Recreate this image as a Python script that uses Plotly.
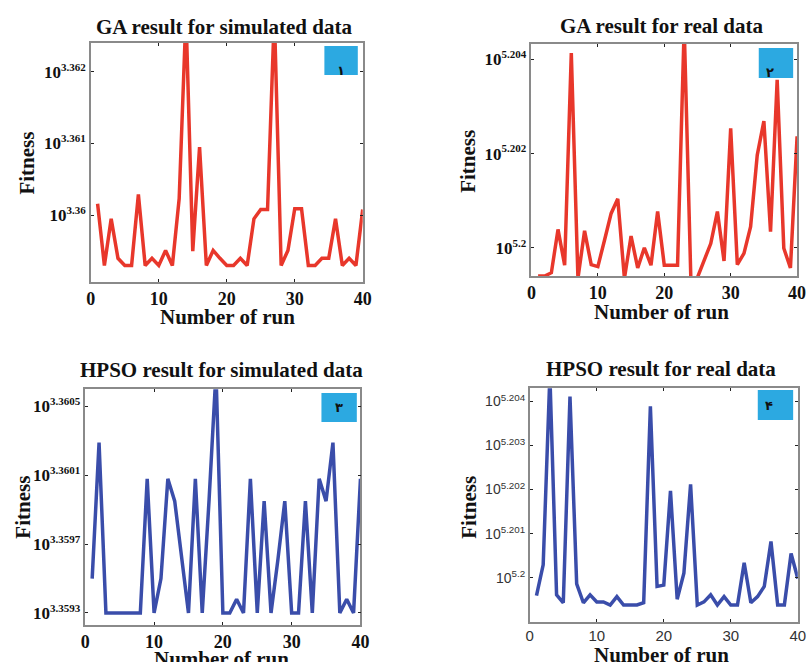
import numpy as np
import plotly.graph_objects as go

runs = list(range(1, 41))

# log10(fitness)
ga_sim_log = [3.36016, 3.35930, 3.35995, 3.35940, 3.35930, 3.35930, 3.36029, 3.35930, 3.35940, 3.35930,
              3.35951, 3.35930, 3.36023, 3.36280, 3.35950, 3.36095, 3.35930, 3.35951, 3.35940, 3.35930,
              3.35930, 3.35940, 3.35930, 3.35995, 3.36008, 3.36008, 3.36280, 3.35930, 3.35951, 3.36009,
              3.36009, 3.35930, 3.35930, 3.35940, 3.35940, 3.35995, 3.35930, 3.35940, 3.35930, 3.36008]

ga_real_log = [5.19940, 5.19940, 5.19947, 5.20039, 5.19963, 5.20414, 5.19935, 5.20036, 5.19964, 5.19960,
               5.20016, 5.20073, 5.20104, 5.19935, 5.20025, 5.19957, 5.20000, 5.19963, 5.20077, 5.19963,
               5.19963, 5.19963, 5.20470, 5.19935, 5.19937, 5.19974, 5.20009, 5.20077, 5.19972, 5.20254,
               5.19964, 5.19988, 5.20045, 5.20197, 5.20269, 5.20034, 5.20357, 5.19999, 5.19957, 5.20237]

hpso_sim_log = [3.35950, 3.36029, 3.35930, 3.35930, 3.35930, 3.35930, 3.35930, 3.35930, 3.36008, 3.35930,
                3.35950, 3.36008, 3.35995, 3.35961, 3.35930, 3.36008, 3.35930, 3.35996, 3.36070, 3.35930,
                3.35930, 3.35938, 3.35930, 3.36008, 3.35930, 3.35995, 3.35930, 3.35961, 3.35995, 3.35930,
                3.35930, 3.35995, 3.35930, 3.36008, 3.35995, 3.36029, 3.35930, 3.35938, 3.35930, 3.36008]

hpso_real_log = [5.19959, 5.20029, 5.20460, 5.19961, 5.19943, 5.20411, 5.19986, 5.19943, 5.19961, 5.19945,
                 5.19945, 5.19938, 5.19957, 5.19938, 5.19938, 5.19938, 5.19943, 5.20389, 5.19980, 5.19983,
                 5.20197, 5.19951, 5.20010, 5.20212, 5.19938, 5.19945, 5.19961, 5.19938, 5.19957, 5.19938,
                 5.19938, 5.20034, 5.19943, 5.19957, 5.19980, 5.20082, 5.19938, 5.19938, 5.20055, 5.19998]

titles = ["GA result for simulated data", "GA result for real data",
          "HPSO result for simulated data", "HPSO result for real data"]
badges = ["١", "٢", "٣", "۴"]
x_ticks = [0, 10, 20, 30, 40]
y_tick_exps = [[3.360, 3.361, 3.362], [5.200, 5.202, 5.204],
               [3.3593, 3.3597, 3.3601, 3.3605], [5.200, 5.201, 5.202, 5.203, 5.204]]
y_tick_text = [["3.36", "3.361", "3.362"], ["5.2", "5.202", "5.204"],
               ["3.3593", "3.3597", "3.3601", "3.3605"], ["5.2", "5.201", "5.202", "5.203", "5.204"]]
y_ranges = [[3.35907, 3.3624], [5.19940, 5.20433], [3.35923, 3.36060], [5.19900, 5.20430]]

W, H = 811, 662
# plot areas in pixels: (left, right, top, bottom)
boxes_px = [(87.3, 364, 43, 282), (535.7, 806, 44, 276), (81.7, 361.7, 389.3, 625), (534, 806.7, 388.3, 621.7)]
badge_px = [(325, 359, 46, 75), (767, 802, 48, 78), (322, 358, 393, 422), (766, 802, 390, 420)]
title_px = [(223, 27), (668, 26), (220, 370), (668, 369)]
xlab_px = [(226, 317), (668, 312), (220, 659), (668, 655)]
ylab_px = [(22, 163), (471, 161), (18, 507), (472, 507)]

series = [ga_sim_log, ga_real_log, hpso_sim_log, hpso_real_log]
colors = ["#E8372B", "#E8372B", "#3A4DAA", "#3A4DAA"]

serif = "Liberation Serif, Times New Roman, serif"
sans = "Liberation Sans, Arial, sans-serif"

fig = go.Figure()
layout = dict(width=W, height=H, margin=dict(l=0, r=0, t=0, b=0),
              paper_bgcolor="white", plot_bgcolor="white", showlegend=False)
shapes = []
annotations = []

for i in range(4):
    l, r, t, b = boxes_px[i]
    sfx = "" if i == 0 else str(i + 1)
    xa, ya = "x" + sfx, "y" + sfx
    fig.add_trace(go.Scatter(x=runs, y=10 ** np.array(series[i]), mode="lines",
                             line=dict(color=colors[i], width=3.5), xaxis=xa, yaxis=ya))
    if i == 3:
        tick_font = dict(family=sans, size=14, color="#333")
        xtick_font = dict(family=sans, size=15, color="#333")
        ytext = ["10<sup>%s</sup>" % s for s in y_tick_text[i]]
        xtext = [str(v) for v in x_ticks]
    else:
        tick_font = dict(family=serif, size=17, color="#111")
        xtick_font = dict(family=serif, size=18, color="#111")
        ytext = ["<b>10<sup><span style='font-size:11px'>%s</span></sup></b>" % s for s in y_tick_text[i]]
        xtext = ["<b>%d</b>" % v for v in x_ticks]
    layout["xaxis" + sfx] = dict(domain=[l / W, r / W], range=[0, 40], anchor=ya,
                                 tickvals=x_ticks, ticktext=xtext, tickfont=xtick_font,
                                 ticks="inside", ticklen=3, tickcolor="#222", mirror="allticks",
                                 showline=True, linecolor="#8a8a8a", linewidth=1.5,
                                 showgrid=False, zeroline=False, fixedrange=True)
    layout["yaxis" + sfx] = dict(domain=[1 - b / H, 1 - t / H], type="log", range=y_ranges[i], anchor=xa,
                                 tickvals=[10 ** e for e in y_tick_exps[i]], ticktext=ytext, tickfont=tick_font,
                                 ticks="inside", ticklen=3, tickcolor="#222", mirror="allticks",
                                 showline=True, linecolor="#8a8a8a", linewidth=1.5,
                                 showgrid=False, zeroline=False, fixedrange=True)
    bl, br, bt, bb = badge_px[i]
    shapes.append(dict(type="rect", xref="paper", yref="paper", x0=bl / W, x1=br / W,
                       y0=1 - bb / H, y1=1 - bt / H, fillcolor="#2CA9E1", line=dict(width=0), layer="above"))
    annotations.append(dict(xref="paper", yref="paper", x=(bl + br) / 2 / W, y=1 - (bt + bb) / 2 / H,
                            text="<b>%s</b>" % badges[i], showarrow=False,
                            font=dict(size=13, color="#111", family="DejaVu Sans")))
    tx, ty = title_px[i]
    annotations.append(dict(xref="paper", yref="paper", x=tx / W, y=1 - ty / H, text="<b>%s</b>" % titles[i],
                            showarrow=False, xanchor="center", yanchor="middle",
                            font=dict(family=serif, size=21, color="#111")))
    lx, ly = xlab_px[i]
    annotations.append(dict(xref="paper", yref="paper", x=lx / W, y=1 - ly / H, text="<b>Number of run</b>",
                            showarrow=False, xanchor="center", yanchor="middle",
                            font=dict(family=serif, size=21, color="#111")))
    fx, fy = ylab_px[i]
    annotations.append(dict(xref="paper", yref="paper", x=fx / W, y=1 - fy / H, text="<b>Fitness</b>",
                            showarrow=False, textangle=-90, xanchor="center", yanchor="middle",
                            font=dict(family=serif, size=21, color="#111")))

layout["shapes"] = shapes
layout["annotations"] = annotations
fig.update_layout(**layout)
fig.write_html("out.html")
